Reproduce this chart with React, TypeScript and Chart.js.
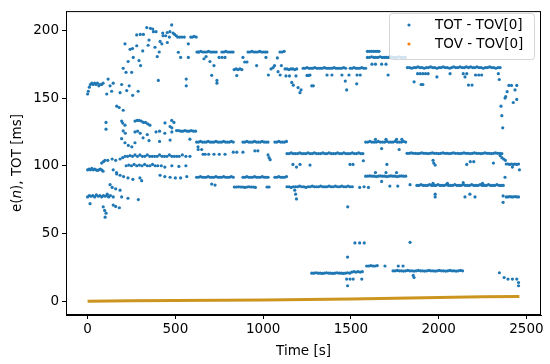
import React, { useEffect, useRef } from 'react';
import { Chart, registerables } from 'chart.js';
Chart.register(...registerables);

const xTicks = [0, 500, 1000, 1500, 2000, 2500];
const yTicks = [0, 50, 100, 150, 200];
const seriesLabels = ['TOT - TOV[0]', 'TOV - TOV[0]'];

// TOT - TOV[0] : early high scatter (t < 640)
const earlyHigh: number[][] = [
  [0,153],[4,155],[10,158],[16,160],[24,161],[32,160],[40,161],[48,160],[56,161],[64,159],[72,160],[80,160],[88,161],
  [109,153],[117,164],[128,159],[137,155],[146,161],[185,154],[194,160],[223,155.5],[237,159],[257,152],[288,155],
  [203,172],[219,169],[231,177],[251,169],[260,180],[213,190],[242,186],[256,186.5],[280,188.6],[293,177.7],[302,174],
  [314,184.8],[280,196.6],[300,197],[318,197],[337,202],[350,192.8],[345,189],[358,201.5],[371,201],[375,199],[390,199],
  [384,187.5],[397,180.6],[408,184],[413,191.8],[430,196],[445,196],[423,190],[428,198],[454,198.4],[469,199],[479,204],
  [466,195],[454,191],[487,198],[496,197],[505,196],[513,195],[525,195],[538,195],[551,195],[574,190],[588,195],
  [597,195],[607,195.5],[619,195],[403,163],[562,164],[562,159],[517,183.8],[530,180],[574,180],[631,184],
];

// high bands and scatter after t = 620
const highBands: number[][] = [
  [623,184],[634,184],[645,184.5],[656,184],[667,184],[678,184],[689,184.5],[700,184],[711,184],[722,184],[733,184],
  [765,184],[776,184],[787,184.5],[798,184],[809,184],[820,184],[829,184],
  [914,184],[925,184],[936,184.5],[947,184],[958,184],[969,184],[980,184.5],[991,184],[1002,184],[1013,184],[1022,184],
  [1096,184],[1108,184],[1120,184.5],
  [835,171],[846,171.5],[857,171],[868,171.5],[879,171],
  [1125,171.5],[1136,171.5],[1147,171],[1158,171.5],[1169,171.5],[1180,171],[1191,171.5],
  [1228,172],[1239,172],[1250,172.5],[1261,172],[1272,172],[1283,172],[1294,172.5],[1305,172],[1316,172],[1327,172],
  [1338,172],[1349,172.5],[1360,172],[1371,172],[1382,172],[1393,172],[1404,172.5],[1415,172],[1426,172],[1437,172],
  [1448,172],[1459,172.5],[1470,172],
  [1496,172],[1507,172],[1518,172.5],[1529,172],[1540,172],[1551,172],[1562,172.5],[1573,172],[1584,172],
  [1594,184.5],[1605,184.5],[1616,184.5],[1627,184.5],[1638,184.5],[1649,184.5],[1660,184.5],
  [1594,180],[1606,180],[1618,180.5],[1630,180],[1642,180],[1654,180],[1666,180.5],[1678,180],[1690,180],[1702,180],
  [1714,180],[1726,180.5],[1738,180],[1750,180],[1762,180],[1774,180.5],[1786,180],[1798,180],[1810,180],
  [1822,172.5],[1834,172.5],[1846,172],[1858,172.5],[1870,172.5],[1882,173],[1894,172.5],[1906,172.5],[1918,172],
  [1930,172.5],[1942,172.5],[1954,173],[1966,172.5],[1978,172.5],[1990,172],[2002,172.5],[2014,172.5],[2026,173],
  [2038,172.5],[2050,172.5],[2062,172],[2074,172.5],[2086,173],[2098,172.5],[2110,172.5],[2122,173],[2134,172.5],
  [2146,172.5],[2158,173],[2170,172.5],[2182,173],[2194,172.5],[2206,172.5],[2218,173],[2230,172.5],[2242,172.5],
  [2254,172],[2266,172.5],[2278,172.5],[2290,173],[2302,172.5],[2314,172.5],[2326,172],[2338,172.5],[2350,172.5],
];

const highScatter: number[][] = [
  [675,180.6],[663,179],[697,177],[720,174],[707,166.8],[737,163],[737,161],[749,180],[766,180],[783,180],
  [885,180],[895,176.6],[908,176.6],[850,166.6],[963,174],[1016,180],[1030,167],[1045,171.5],[1057,172.5],
  [1065,174],[1081,179.6],[1085,169.5],[1097,167],[1104,174],
  [1130,166.3],[1150,166.3],[1187,166.3],[1163,161.5],[1172,159.5],[1199,157.7],[1210,154],[1216,156],
  [1250,166.7],[1260,166.7],[1286,159],
  [1267,167],[1364,167],[1392,167],[1449,167],[1489,167],[1535,167],[1553,167],[1277,159],[1468,162.5],
  [1476,156],[1533,160.5],
  [1620,175],[1640,175],[1675,175],[1700,175],[1712,167],
  [1880,168],[1895,168],[1910,168],[1925,168],[1940,168],[1860,162],[1900,160],[1990,165.6],[2065,168],
  [2140,168],[2160,168],[2150,165.6],[2210,167],[2228,167],[2245,167],[2170,159.6],[2190,159.6],[1910,160],
  [2340,168],[2345,163.7],[2400,159.3],[2415,159.3],[2445,159.3],[2390,154.7],[2435,156],[2378,150],[2382,151],
  [2445,149],[2425,146.7],[2355,144],[2360,137],
];

// middle region, early chaos (t < 640)
const earlyMid: number[][] = [
  [166,144],[180,143],[203,141],[105,132],[105,127],[194,133],[200,131.5],[213,130],
  [270,133],[282,133.5],[294,133.5],[306,133],[318,132],[330,132],[342,131],[355,130],
  [441,131.6],[479,133.5],[492,132],
  [507,126],[519,126],[531,125.5],[543,125.5],[555,126],[567,125.5],[579,125.5],[591,126],[603,125.5],[615,125.5],
  [470,129],[480,128],[203,125.7],[215,124],[270,125],[285,125.5],[300,124],[340,123],[390,125],[410,125.5],
  [440,124],[480,125],
  [194,120],[213,117],[232,115],[252,114],[270,117],[316,120.6],[350,118.6],[410,118],[470,119],[583,119.6],[629,114],
  [185,105],[200,106],[214,107],[228,107],[242,107.5],[256,107],[270,108],[284,107],[298,108],[312,107],[326,107],
  [340,108],[354,107],[368,107],[382,107],[396,107],[410,108],[424,107],[438,107],[452,107],[466,108],[480,107],
  [494,107],[508,107],[522,107],[540,108],[560,107],[583,107],
  [115,104],[140,105],[160,104],
  [220,100],[235,100.5],[250,100],[265,101],[280,100],[295,100.5],[310,100],[325,101],[340,100],[355,100],
  [370,101],[385,100],[400,100],[420,100],[440,99],[480,100],[520,99.5],[560,100],
  [80,102],[90,103],[99,104],
  [0,97],[8,97.5],[16,97],[24,98],[32,97],[40,97.5],[48,97],[56,96.5],[64,97],[72,97.5],[80,97],[88,96],
  [146,97],[165,95],
  [166,94],[185,93],[205,92],[230,91],[258,90],[413,93],[440,92],[470,91.5],[500,91],[530,91],[565,92],
  [298,91],[308,89],
  [128,86],[140,84],[160,83],[185,82],[112,79],[194,77],[230,76],[289,75],
  [0,77],[10,78],[20,77.5],[30,78],[40,77],[50,78.5],[60,77.5],[70,78],[80,77],[90,78],[100,77.5],[110,78],
  [120,77],[130,78],[146,77],
  [14,72],[89,69.7],[97,67],[105,65],[100,62],[146,71],[160,70],[181,69],
];

// middle bands after t = 620
const midBands: number[][] = [
  [621,117.5],[632,117.5],[643,118],[654,117.5],[665,117.5],[676,117.5],[687,118],[698,117.5],[709,117.5],
  [720,117.5],[731,118],[742,117.5],[753,117.5],[764,117.5],[775,118],[786,117.5],[797,117.5],[808,117.5],
  [819,118],[830,117.5],
  [885,117.5],[896,117.5],[907,118],[918,117.5],[929,117.5],[940,117.5],[951,118],[962,117.5],[973,117.5],
  [984,117.5],[995,118],[1006,117.5],[1017,117.5],[1028,117.5],
  [1067,117.5],[1078,117.5],[1089,118],[1100,117.5],[1111,117.5],[1122,117.5],[1133,118],
  [1136,109],[1148,109],[1160,109.5],[1172,109],[1184,109],[1196,109],[1208,109.5],[1220,109],[1232,109],
  [1244,109],[1256,109.5],[1268,109],[1280,109],[1292,109.5],[1304,109],[1316,109],[1328,109],[1340,109.5],
  [1352,109],[1364,109],[1376,109.5],[1388,109],[1400,109],[1412,109],[1424,109.5],[1436,109],[1448,109],
  [1460,109.5],[1472,109],[1484,109],[1496,109],[1508,109.5],[1520,109],[1532,109],[1544,109.5],[1556,109],
  [1568,109],
  [1584,117.5],[1596,117.5],[1608,118],[1620,117.5],[1632,117.5],[1644,117.5],[1656,118],[1668,117.5],
  [1680,117.5],[1692,117.5],[1704,118],[1716,117.5],[1728,117.5],[1740,117.5],[1752,118],[1764,117.5],
  [1776,117.5],[1788,117.5],[1800,118],[1812,117.5],
  [1820,109.2],[1832,109.2],[1844,109.5],[1856,109.2],[1868,109.2],[1880,109],[1892,109.2],[1904,109.5],
  [1916,109.2],[1928,109.2],[1940,109],[1952,109.2],[1964,109.5],[1976,109.2],[1988,109.2],[2000,109],
  [2012,109.2],[2024,109.5],[2036,109.2],[2048,109.2],[2060,109],[2072,109.2],[2084,109.5],[2096,109.2],
  [2108,109.2],[2120,109],[2132,109.2],[2144,109.5],[2156,109.2],[2168,109.2],[2180,109],[2192,109.2],
  [2204,109.5],[2216,109.2],[2228,109.2],[2240,109],[2252,109.2],[2264,109.5],[2276,109.2],[2288,109.2],
  [2300,109],[2312,109.2],[2324,109.5],[2336,109.2],[2348,109.2],[2360,109],
  [2385,101.3],[2395,101.3],[2405,101],[2415,101.3],[2425,101],[2435,101.3],[2445,101],[2455,101.3],
  [621,91.5],[632,91.5],[643,92],[654,91.5],[665,91.5],[676,91.5],[687,92],[698,91.5],[709,91.5],[720,91.5],
  [731,92],[742,91.5],[753,91.5],[764,91.5],[775,92],[786,91.5],[797,91.5],[808,91.5],[819,92],[830,91.5],
  [885,91.5],[896,91.5],[907,92],[918,91.5],[929,91.5],[940,91.5],[951,92],[962,91.5],[973,91.5],[984,91.5],
  [995,92],[1006,91.5],[1017,91.5],[1028,91.5],
  [1067,91.5],[1078,91.5],[1089,92],[1100,91.5],[1111,91.5],[1122,91.5],[1133,92],
  [836,84.3],[848,84.3],[860,84.5],[872,84.3],[884,84.3],[896,84],[908,84.3],[920,84.5],[932,84.3],[944,84.3],
  [956,84],[1022,84.3],[1034,84.3],
  [1136,84.5],[1148,84.5],[1160,84],[1172,84.5],[1184,84.5],[1196,84.5],[1208,85],[1220,84.5],[1232,84.5],
  [1244,84],[1256,84.5],[1268,84.5],[1280,85],[1292,84.5],[1304,84.5],[1316,84.5],[1328,85],[1340,84.5],
  [1352,84.5],[1364,84.5],[1376,85],[1388,84.5],[1400,84.5],[1412,85],[1424,84.5],[1436,84.5],[1448,85],
  [1460,84.5],[1472,84.5],[1484,85],[1496,84.5],[1508,84.5],
  [1584,92.3],[1596,92.3],[1608,92.5],[1620,92.3],[1632,92.3],[1644,92],[1656,92.3],[1668,92.5],[1680,92.3],
  [1692,92.3],[1704,92],[1716,92.3],[1728,92.5],[1740,92.3],[1752,92.3],[1764,92],[1776,92.3],[1788,92.5],
  [1800,92.3],[1812,92.3],
  [1876,85.5],[1888,85.5],[1900,86],[1912,85.5],[1924,85.5],[1936,85.5],[1948,86],[1960,85.5],[1972,85.5],
  [1984,85.5],[1996,86],[2008,85.5],[2020,85.5],[2032,85.5],[2044,86],[2056,85.5],[2068,85.5],[2080,85.5],
  [2092,86],[2104,85.5],[2116,85.5],[2128,85.5],[2140,86],[2152,85.5],[2164,85.5],[2176,85.5],[2188,86],
  [2200,85.5],[2212,85.5],[2224,85.5],[2236,86],[2248,85.5],[2260,85.5],[2272,85.5],[2284,86],[2296,85.5],
  [2308,85.5],[2320,85.5],[2332,86],[2344,85.5],[2356,85.5],[2368,85.5],
  [2385,77],[2395,77],[2405,77.3],[2415,77],[2425,77],[2435,77.3],[2445,77],[2455,77],
];

const midScatter: number[][] = [
  [630,112],[650,112],[658,108.5],[670,108.5],[690,108.5],[720,108.5],[750,108.5],[783,108.5],[830,110],
  [850,110],[885,110],[953,111],[970,111],[1028,108],[1034,106],[1040,104.5],
  [1170,101],[1190,99],[1210,101],[1267,100.5],[1495,101],[1512,101],[1571,103.7],[1705,101],
  [1640,119.5],[1700,119.5],[1760,119.5],[1790,119.5],[1675,112.7],[1775,112],
  [1968,104],[1972,102],[1980,100.5],[2160,101],[2180,103],[2200,103],[2312,102],[2365,128],
  [2350,107.5],[2360,106],[2370,105],[2380,104],[2420,99],[2460,97],[2378,91.5],
  [707,86.5],[726,85.7],[1180,82],[1185,79],[1190,75.5],[1550,84],[1575,84.5],[1600,84],
  [1640,95],[1700,95],[1760,95],[1675,88.4],[1722,85],[1767,85],[1837,86],
  [1968,87],[2050,87],[2140,87.5],[2250,87],[1980,79],[1980,77],[2150,77],[2178,79],[2207,77],
  [2367,77.7],[2367,73],[1482,69.7],
];

// low region (around 20 ms)
const lowBands: number[][] = [
  [1277,20.7],[1289,20.7],[1301,21],[1313,20.7],[1325,20.7],[1337,20.5],[1349,20.7],[1361,21],[1373,20.7],
  [1385,20.7],[1397,20.5],[1409,20.7],[1421,21],[1433,20.7],[1445,20.7],[1457,20.5],[1469,20.7],[1481,21],
  [1493,20.7],[1505,21.5],[1517,21.8],[1529,21.5],[1541,21.8],[1553,21.5],[1565,21.8],
  [1590,26],[1602,26],[1614,26.3],[1626,26],[1638,26],[1650,26.3],
  [1740,22.4],[1752,22.4],[1764,22.7],[1776,22.4],[1788,22.4],[1800,22.2],[1812,22.4],[1824,22.7],[1836,22.4],
  [1848,22.4],[1860,22.2],[1872,22.4],[1884,22.7],[1896,22.4],[1908,22.4],[1920,22.2],[1932,22.4],[1944,22.7],
  [1956,22.4],[1968,22.4],[1980,22.2],[1992,22.4],[2004,22.7],[2016,22.4],[2028,22.4],[2040,22.2],[2052,22.4],
  [2064,22.7],[2076,22.4],[2088,22.4],[2100,22.2],[2112,22.4],[2124,22.7],[2136,22.4],
];

const lowScatter: number[][] = [
  [1476,16.3],[1495,16.3],[1513,16.3],[1481,11.4],[1562,16.3],[1481,32.6],[1523,43],[1550,43],[1576,43],
  [1694,26],[1770,26],[1797,26],[1860,17.5],[1855,19],[1837,43.5],
  [2346,21],[2373,17.5],[2395,16.3],[2420,16.3],[2445,16.3],[2455,13.8],[2455,11.4],
];

// TOV - TOV[0]
const tovTimes = [0, 250, 500, 750, 1000, 1250, 1500, 1750, 2000, 2250, 2460];
const tovValues = [0, 0.3, 0.5, 0.6, 0.8, 1.2, 1.7, 2.2, 2.7, 3.2, 3.5];

const BLUE = '#1f77b4';
const ORANGE = '#ff7f0e';
const TOV_LINE = '#cc951f';
const FONT = 'DejaVu Sans';
const FS = 13.5;

export default function App() {
  const ref = useRef<HTMLCanvasElement>(null);
  useEffect(() => {
    document.body.style.margin = '0';
    const totPoints = [...earlyHigh, ...highBands, ...highScatter, ...earlyMid, ...midBands, ...midScatter, ...lowBands, ...lowScatter]
      .map(([x, y]) => ({ x, y }));
    const tovPoints = tovTimes.map((x, i) => ({ x, y: tovValues[i] }));

    const framePlugin = {
      id: 'frame',
      afterDraw(chart: any) {
        const { ctx, chartArea: a } = chart;
        ctx.save();
        ctx.strokeStyle = '#000';
        ctx.lineWidth = 1;
        ctx.strokeRect(a.left + 0.5, a.top + 0.5, a.right - a.left - 1, a.bottom - a.top - 1);
        // legend
        const bx = 389, by = 13, bw = 145, bh = 46;
        ctx.fillStyle = 'rgba(255,255,255,0.8)';
        ctx.strokeStyle = 'rgba(204,204,204,0.8)';
        ctx.beginPath();
        (ctx as any).roundRect(bx + 0.5, by + 0.5, bw, bh, 3);
        ctx.fill();
        ctx.stroke();
        const cols = [BLUE, ORANGE];
        ctx.font = `${FS}px "${FONT}"`;
        ctx.textBaseline = 'middle';
        ctx.textAlign = 'left';
        seriesLabels.forEach((lab, i) => {
          const y = by + 12 + i * 19;
          ctx.fillStyle = cols[i];
          ctx.beginPath();
          ctx.arc(409, y, 1.6, 0, Math.PI * 2);
          ctx.fill();
          ctx.fillStyle = '#000';
          ctx.fillText(lab, 435, y);
        });
        // axis labels
        ctx.fillStyle = '#000';
        ctx.textAlign = 'center';
        ctx.textBaseline = 'middle';
        ctx.font = `${FS}px "${FONT}"`;
        ctx.fillText('Time [s]', (a.left + a.right) / 2, 351);
        ctx.save();
        ctx.translate(17, (a.top + a.bottom) / 2);
        ctx.rotate(-Math.PI / 2);
        const parts = [
          { t: 'e(', f: `${FS}px "${FONT}"` },
          { t: 'n', f: `oblique ${FS}px "${FONT}"` },
          { t: '), TOT [ms]', f: `${FS}px "${FONT}"` },
        ];
        let total = 0;
        parts.forEach(p => { ctx.font = p.f; total += ctx.measureText(p.t).width; });
        let x = -total / 2;
        ctx.textAlign = 'left';
        parts.forEach(p => { ctx.font = p.f; ctx.fillText(p.t, x, 0); x += ctx.measureText(p.t).width; });
        ctx.restore();
        ctx.restore();
      },
    };

    const chart = new Chart(ref.current!, {
      type: 'scatter',
      data: {
        datasets: [
          {
            label: seriesLabels[0], data: totPoints, backgroundColor: BLUE, borderWidth: 0,
            pointRadius: 1.6, pointHoverRadius: 1.6, order: 2,
          },
          {
            label: seriesLabels[1], data: tovPoints, showLine: true, borderColor: TOV_LINE,
            backgroundColor: ORANGE, borderWidth: 3, pointRadius: 0, order: 1,
          },
        ],
      },
      options: {
        animation: false,
        responsive: false,
        events: [],
        layout: { padding: { top: 7, right: 9, left: 0, bottom: 0 } },
        plugins: { legend: { display: false }, tooltip: { enabled: false } },
        scales: {
          x: {
            type: 'linear', min: -123, max: 2583,
            afterBuildTicks: (s: any) => { s.ticks = xTicks.map(v => ({ value: v })); },
            afterFit: (s: any) => { s.height = 49; },
            ticks: { color: '#000', font: { family: FONT, size: FS }, padding: 2, maxRotation: 0, callback: (v: any) => String(v) },
            grid: { drawOnChartArea: false, drawTicks: true, tickLength: 4, color: '#000' },
            border: { display: true, color: '#000', width: 1 },
          },
          y: {
            type: 'linear', min: -10.2, max: 214.2,
            afterBuildTicks: (s: any) => { s.ticks = yTicks.map(v => ({ value: v })); },
            afterFit: (s: any) => { s.width = 66; },
            ticks: { color: '#000', font: { family: FONT, size: FS }, padding: 3, callback: (v: any) => String(v) },
            grid: { drawOnChartArea: false, drawTicks: true, tickLength: 4, color: '#000' },
            border: { display: true, color: '#000', width: 1 },
          },
        },
      },
      plugins: [framePlugin],
    });
    return () => chart.destroy();
  }, []);
  return <canvas ref={ref} width={550} height={364} style={{ display: 'block' }} />;
}
